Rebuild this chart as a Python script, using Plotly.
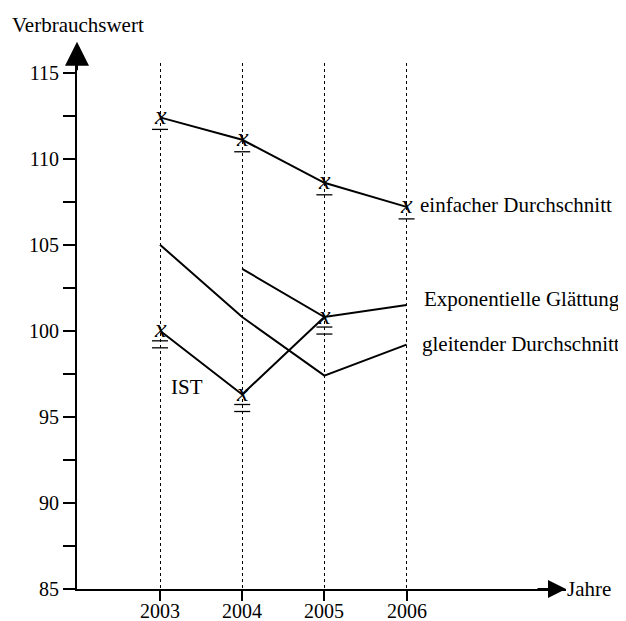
import plotly.graph_objects as go

years = [2003, 2004, 2005, 2006]
einfacher = [112.4, 111.1, 108.6, 107.2]
gleitender = [105.0, 100.8, 97.4, 99.2]
exponentiell = [None, 103.6, 100.8, 101.5]
ist = [100.0, 96.3, 100.8, None]
y_ticks = [85, 90, 95, 100, 105, 110, 115]

FONT = "Liberation Serif"
fig = go.Figure()

for ys in (einfacher, gleitender, exponentiell, ist):
    fig.add_trace(go.Scatter(x=years, y=ys, mode="lines", connectgaps=False,
                             line=dict(color="black", width=2), showlegend=False,
                             hoverinfo="skip"))

annotations = []
shapes = []


def mark(x, y, n_under):
    annotations.append(dict(x=x, y=y, xref="x", yref="y", text="<i>x</i>",
                            showarrow=False, yshift=2,
                            font=dict(family=FONT, size=26, color="black")))
    offs = [-12] if n_under == 1 else [-10, -17]
    for o in offs:
        shapes.append(dict(type="line", xref="x", yref="y", xsizemode="pixel",
                           ysizemode="pixel", xanchor=x, yanchor=y, x0=-8, x1=8,
                           y0=o, y1=o, line=dict(color="black", width=1.3)))


for x, y in zip(years, einfacher):
    mark(x, y, 1)
for x, y in zip(years, ist):
    if y is not None:
        mark(x, y, 2)

# year labels below the x axis
for x in years:
    annotations.append(dict(x=x, y=0, xref="x", yref="paper", text=str(x),
                            showarrow=False, yanchor="middle", yshift=-22,
                            borderpad=0,
                            font=dict(family=FONT, size=20, color="black")))

lab = dict(family=FONT, size=21, color="black")
annotations += [
    dict(x=years[3], y=einfacher[3], xref="x", yref="y", text="einfacher Durchschnitt",
         showarrow=False, xanchor="left", xshift=11, yshift=2, font=lab),
    dict(x=years[3], y=exponentiell[3], xref="x", yref="y", text="Exponentielle Glättung",
         showarrow=False, xanchor="left", xshift=15, yshift=6, font=lab),
    dict(x=years[3], y=gleitender[3], xref="x", yref="y", text="gleitender Durchschnitt",
         showarrow=False, xanchor="left", xshift=13, yshift=1, font=lab),
    dict(x=years[0], y=96.75, xref="x", yref="y", text="IST",
         showarrow=False, xanchor="left", xshift=9, font=lab),
    dict(x=1, y=0, xref="paper", yref="paper", text="Jahre", showarrow=False,
         xanchor="left", yanchor="middle", xshift=-1, yshift=0, font=lab),
    dict(x=-0.136, y=1.072, xref="paper", yref="paper", text="Verbrauchswert",
         showarrow=False, xanchor="left", yanchor="middle", font=lab),
    # axis arrows
    dict(x=0, y=1.0405, xref="paper", yref="paper", text="", showarrow=True,
         ax=0, ay=30, arrowhead=2, arrowsize=2.4, arrowwidth=2, arrowcolor="black"),
    dict(x=1, y=0, xref="paper", yref="paper", text="", showarrow=True,
         ax=-30, ay=0, arrowhead=2, arrowsize=1.8, arrowwidth=2, arrowcolor="black"),
]

# the page body adds an 8px offset; size and margins compensate for it
fig.update_layout(
    width=618, height=613,
    margin=dict(l=69, r=60, t=55, b=32, autoexpand=False),
    paper_bgcolor="white", plot_bgcolor="white",
    font=dict(family=FONT, size=20, color="black"),
    annotations=annotations, shapes=shapes,
    xaxis=dict(range=[2001.99, 2007.94], tickvals=years, showticklabels=False,
               automargin=False,
               showline=True, linewidth=2, linecolor="black", ticks="outside",
               ticklen=10, tickwidth=1.5, tickcolor="black",
               showgrid=True, gridcolor="black", griddash="dot", gridwidth=1,
               zeroline=False),
    yaxis=dict(range=[85, 115.56], tickvals=y_ticks, showline=True, linewidth=2,
               automargin=False,
               linecolor="black", ticks="outside", ticklen=12, tickwidth=1.5,
               tickcolor="black", showgrid=False, zeroline=False,
               minor=dict(dtick=2.5, tick0=85, ticks="outside", ticklen=12,
                          tickwidth=1.5, tickcolor="black", showgrid=False),
               tickfont=dict(family=FONT, size=20, color="black")),
)

fig.write_html("out.html")
